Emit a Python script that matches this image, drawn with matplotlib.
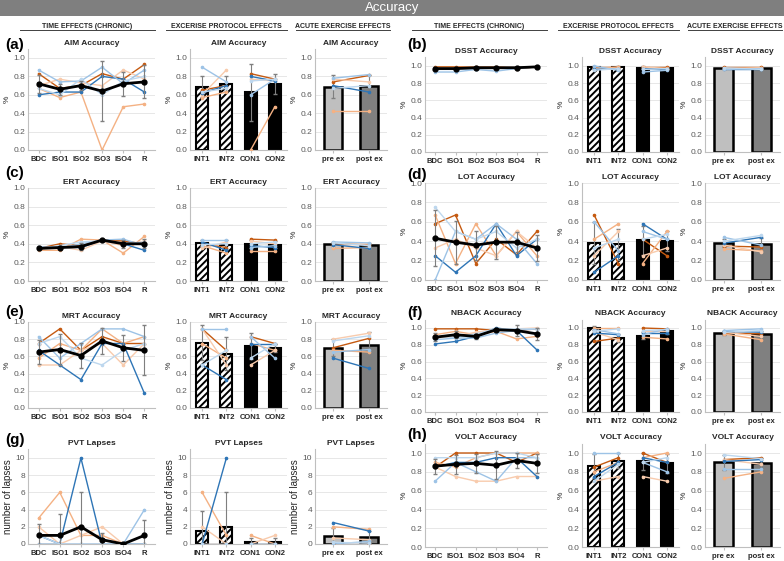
import numpy as np
import matplotlib.pyplot as plt

plt.rcParams['font.family'] = ['Liberation Sans', 'DejaVu Sans']
plt.rcParams['hatch.linewidth'] = 1.4

TIME_CATS = ['BDC', 'ISO1', 'ISO2', 'ISO3', 'ISO4', 'R']
PROT_CATS = ['INT1', 'INT2', 'CON1', 'CON2']
ACUTE_CATS = ['pre ex', 'post ex']
# dark orange, light orange, pale orange, dark blue, light blue, pale blue
SUBJ_COLORS = ['#C55A11', '#F4B183', '#F8CBAD', '#2E75B6', '#9DC3E6', '#BDD7EE']

# ---- AIM
aim_time = [[0.83, 0.67, 0.70, 0.83, 0.77, 0.93],
            [0.67, 0.57, 0.63, 0.00, 0.47, 0.50],
            [0.70, 0.77, 0.73, 0.70, 0.87, 0.77],
            [0.60, 0.63, 0.63, 0.80, 0.77, 0.63],
            [0.87, 0.74, 0.75, 0.90, 0.72, 0.87],
            [0.67, 0.60, 0.77, 0.60, 0.75, 0.80]]
aim_time_mean = [0.72, 0.66, 0.70, 0.64, 0.72, 0.74]
aim_time_err = [0.10, 0.06, 0.05, 0.33, 0.13, 0.18]
aim_prot = [[0.65, 0.70, 0.83, 0.77],
            [0.57, 0.63, 0.00, 0.47],
            [0.60, 0.87, 0.77, 0.75],
            [0.62, 0.70, 0.80, 0.75],
            [0.90, 0.74, 0.60, 0.77],
            [0.63, 0.67, 0.75, 0.77]]
aim_prot_bars = [0.69, 0.72, 0.63, 0.72]
aim_prot_err = [0.11, 0.08, 0.31, 0.11]
aim_acute = [[0.74, 0.81], [0.42, 0.42], [0.77, 0.74],
             [0.70, 0.63], [0.78, 0.82], [0.67, 0.70]]
aim_acute_bars = [0.69, 0.70]
aim_acute_err = [0.13, 0.12]

# ---- DSST
dsst_time = [[0.99, 0.99, 0.99, 0.99, 0.97, 0.99],
             [0.98, 0.98, 0.99, 0.99, 0.98, 0.99],
             [0.97, 0.97, 0.98, 0.98, 0.97, 0.99],
             [0.97, 0.97, 0.97, 0.98, 0.98, 0.99],
             [0.93, 0.93, 0.96, 0.94, 0.97, 0.99],
             [0.96, 0.96, 0.97, 0.97, 0.98, 0.99]]
dsst_time_mean = [0.97, 0.97, 0.98, 0.98, 0.98, 0.99]
dsst_time_err = [0.02, 0.02, 0.01, 0.02, 0.01, 0.00]
dsst_prot = [[0.99, 0.99, 0.99, 0.99],
             [0.97, 0.99, 0.98, 0.98],
             [0.98, 0.98, 0.99, 0.97],
             [0.96, 0.97, 0.97, 0.96],
             [1.00, 0.95, 0.93, 0.95],
             [0.95, 0.97, 0.96, 0.97]]
dsst_prot_bars = [0.99, 0.99, 0.98, 0.98]
dsst_prot_err = [0.01, 0.01, 0.02, 0.01]
dsst_acute = [[0.99, 0.99], [0.98, 0.98], [0.97, 0.98],
              [0.97, 0.97], [0.96, 0.97], [0.98, 0.96]]
dsst_acute_bars = [0.98, 0.98]
dsst_acute_err = [0.01, 0.01]

# ---- ERT
ert_time = [[0.35, 0.40, 0.38, 0.44, 0.43, 0.40],
            [0.33, 0.33, 0.45, 0.44, 0.30, 0.48],
            [0.34, 0.37, 0.33, 0.43, 0.38, 0.43],
            [0.36, 0.36, 0.36, 0.44, 0.40, 0.33],
            [0.37, 0.35, 0.40, 0.44, 0.45, 0.38],
            [0.35, 0.38, 0.42, 0.43, 0.40, 0.42]]
ert_time_mean = [0.35, 0.36, 0.37, 0.44, 0.40, 0.40]
ert_time_err = [0.02, 0.02, 0.04, 0.01, 0.04, 0.05]
ert_prot = [[0.40, 0.36, 0.45, 0.44],
            [0.38, 0.30, 0.32, 0.32],
            [0.35, 0.42, 0.43, 0.40],
            [0.42, 0.33, 0.38, 0.36],
            [0.44, 0.44, 0.36, 0.38],
            [0.39, 0.40, 0.40, 0.42]]
ert_prot_bars = [0.41, 0.39, 0.40, 0.39]
ert_prot_err = [0.03, 0.05, 0.04, 0.04]
ert_acute = [[0.40, 0.39], [0.35, 0.36], [0.38, 0.40],
             [0.39, 0.35], [0.42, 0.41], [0.41, 0.38]]
ert_acute_bars = [0.40, 0.39]
ert_acute_err = [0.02, 0.02]

# ---- LOT
lot_time = [[0.58, 0.67, 0.17, 0.42, 0.26, 0.50],
            [0.67, 0.17, 0.58, 0.25, 0.50, 0.25],
            [0.33, 0.42, 0.33, 0.25, 0.50, 0.33],
            [0.25, 0.08, 0.25, 0.58, 0.25, 0.42],
            [0.00, 0.50, 0.42, 0.58, 0.42, 0.17],
            [0.75, 0.50, 0.42, 0.50, 0.33, 0.42]]
lot_time_mean = [0.43, 0.39, 0.36, 0.39, 0.39, 0.33]
lot_time_err = [0.29, 0.22, 0.15, 0.17, 0.10, 0.13]
lot_prot = [[0.67, 0.17, 0.42, 0.25],
            [0.42, 0.58, 0.17, 0.50],
            [0.25, 0.50, 0.25, 0.33],
            [0.08, 0.25, 0.58, 0.42],
            [0.60, 0.30, 0.50, 0.42],
            [0.33, 0.42, 0.42, 0.47]]
lot_prot_bars = [0.38, 0.37, 0.41, 0.40]
lot_prot_err = [0.22, 0.16, 0.15, 0.10]
lot_acute = [[0.35, 0.34], [0.32, 0.30], [0.36, 0.29],
             [0.38, 0.44], [0.44, 0.36], [0.40, 0.46]]
lot_acute_bars = [0.38, 0.37]
lot_acute_err = [0.04, 0.06]

# ---- MRT
mrt_time = [[0.75, 0.92, 0.67, 0.83, 0.75, 0.75],
            [0.58, 0.75, 0.67, 0.92, 0.75, 0.83],
            [0.50, 0.50, 0.67, 0.75, 0.50, 0.75],
            [0.67, 0.50, 0.33, 0.75, 0.75, 0.17],
            [0.83, 0.58, 0.75, 0.92, 0.92, 0.83],
            [0.75, 0.83, 0.58, 0.50, 0.67, 0.75]]
mrt_time_mean = [0.65, 0.68, 0.61, 0.78, 0.70, 0.67]
mrt_time_err = [0.14, 0.18, 0.15, 0.15, 0.15, 0.29]
mrt_prot = [[0.92, 0.67, 0.83, 0.75],
            [0.75, 0.58, 0.75, 0.67],
            [0.92, 0.50, 0.50, 0.67],
            [0.50, 0.33, 0.75, 0.75],
            [0.92, 0.92, 0.83, 0.58],
            [0.50, 0.67, 0.58, 0.75]]
mrt_prot_bars = [0.76, 0.63, 0.72, 0.70]
mrt_prot_err = [0.20, 0.19, 0.15, 0.05]
mrt_acute = [[0.70, 0.81], [0.67, 0.65], [0.80, 0.87],
             [0.58, 0.46], [0.65, 0.68], [0.78, 0.84]]
mrt_acute_bars = [0.70, 0.73]
mrt_acute_err = [0.10, 0.15]

# ---- NBACK
nback_time = [[0.99, 0.99, 0.99, 0.97, 0.97, 0.99],
              [0.92, 0.96, 0.92, 0.96, 0.87, 0.90],
              [0.88, 0.90, 0.95, 0.98, 0.99, 1.00],
              [0.81, 0.84, 0.90, 1.00, 0.97, 0.74],
              [0.86, 0.88, 0.88, 0.94, 0.97, 0.99],
              [0.90, 0.89, 0.93, 0.99, 0.99, 0.99]]
nback_time_mean = [0.89, 0.92, 0.90, 0.98, 0.97, 0.93]
nback_time_err = [0.05, 0.04, 0.03, 0.02, 0.06, 0.07]
nback_prot = [[0.84, 0.88, 1.00, 0.99],
              [1.00, 1.00, 0.89, 0.87],
              [0.95, 0.86, 0.96, 0.96],
              [0.94, 0.92, 0.94, 0.94],
              [0.98, 0.93, 0.92, 0.99],
              [0.96, 0.99, 0.97, 0.98]]
nback_prot_bars = [1.00, 0.88, 0.91, 0.96]
nback_prot_err = [0.02, 0.05, 0.04, 0.03]
nback_acute = [[0.94, 0.93], [0.93, 0.86], [0.95, 0.90],
               [0.96, 0.95], [0.97, 0.99], [0.95, 0.97]]
nback_acute_bars = [0.94, 0.93]
nback_acute_err = [0.02, 0.04]

# ---- PVT
pvt_time = [[0, 0, 0, 0, 0, 0],
            [3, 6, 1, 1, 0, 0],
            [2, 0, 1, 2, 0, 0],
            [1, 0, 10, 0, 0, 0],
            [0, 0, 0, 0, 0, 4],
            [1, 0, 0, 0, 0, 0]]
pvt_time_mean = [1.0, 1.0, 2.0, 0.5, 0.0, 1.0]
pvt_time_err = [1.3, 2.5, 4.0, 0.8, 0.1, 1.8]
pvt_prot = [[0, 0, 0, 0],
            [6, 1, 1, 0],
            [2, 0, 0, 1],
            [0, 10, 0, 0],
            [0, 0, 0, 0],
            [0, 0, 0, 0]]
pvt_prot_bars = [1.5, 2.0, 0.25, 0.25]
pvt_prot_err = [2.3, 4.0, 0.4, 0.4]
pvt_acute = [[0.0, 0.0], [2.0, 1.7], [0.7, 0.5],
             [2.5, 1.5], [0.0, 0.3], [0.2, 0.1]]
pvt_acute_bars = [0.9, 0.8]
pvt_acute_err = [1.0, 0.7]

# ---- VOLT
volt_time = [[0.85, 1.00, 1.00, 1.00, 0.90, 1.00],
             [0.90, 0.85, 0.95, 1.00, 1.00, 1.00],
             [0.85, 0.75, 0.70, 0.70, 0.75, 0.75],
             [0.85, 0.90, 0.90, 0.95, 0.95, 0.75],
             [0.70, 0.90, 0.80, 0.70, 0.95, 0.95],
             [0.95, 0.95, 0.95, 1.00, 1.00, 0.95]]
volt_time_mean = [0.86, 0.88, 0.89, 0.87, 0.92, 0.89]
volt_time_err = [0.08, 0.10, 0.10, 0.15, 0.08, 0.10]
volt_prot = [[0.85, 0.95, 1.00, 0.90],
             [0.80, 0.90, 0.95, 1.00],
             [0.70, 0.75, 0.75, 0.70],
             [0.75, 0.90, 0.95, 0.90],
             [1.00, 1.00, 0.90, 0.80],
             [0.70, 0.88, 0.90, 0.95]]
volt_prot_bars = [0.86, 0.92, 0.91, 0.89]
volt_prot_err = [0.13, 0.08, 0.09, 0.10]
volt_acute = [[0.93, 0.95], [0.73, 0.80], [0.93, 0.88],
              [0.91, 0.93], [0.83, 0.83], [0.98, 0.94]]
volt_acute_bars = [0.90, 0.89]
volt_acute_err = [0.08, 0.06]

W, H = 784, 561
fig = plt.figure(figsize=(W / 100, H / 100), dpi=100)


def px_axes(x0, x1, ytop, ybot):
    return fig.add_axes([x0 / W, 1 - ybot / H, (x1 - x0) / W, (ybot - ytop) / H])


def style(ax, title, ylabel, ymax, step, fmt):
    ax.set_title(title, fontsize=6, fontweight='bold', color='#262626', pad=3)
    ax.set_ylim(0, ymax)
    ax.set_yticks(np.arange(0, ymax + 1e-6, step))
    ax.set_yticklabels([fmt % v for v in np.arange(0, ymax + 1e-6, step)])
    ax.grid(axis='y', color='#e3e3e3', lw=0.6)
    ax.set_axisbelow(True)
    for s in ['top', 'right']:
        ax.spines[s].set_visible(False)
    for s in ['left', 'bottom']:
        ax.spines[s].set_color('#bfbfbf')
        ax.spines[s].set_linewidth(0.8)
    ax.tick_params(axis='y', length=0, labelsize=6, labelcolor='#595959', pad=2)
    ax.tick_params(axis='x', length=2, color='#bfbfbf', labelsize=5.5, labelcolor='#262626', pad=2)
    for lab in ax.get_xticklabels():
        lab.set_fontweight('bold')
    ax.set_ylabel(ylabel, fontsize=6 if ylabel == '%' else 7, color='#262626', labelpad=2)


def time_panel(ax, indiv, mean, err):
    x = np.arange(len(TIME_CATS))
    for row, c in zip(indiv, SUBJ_COLORS):
        ax.plot(x, row, color=c, lw=1, marker='o', ms=1.6, zorder=2)
    ax.errorbar(x, mean, yerr=err, color='black', lw=2, marker='o', ms=3.5,
                ecolor='#7f7f7f', elinewidth=0.8, capsize=1.5, zorder=3)
    ax.set_xticks(x)
    ax.set_xticklabels(TIME_CATS)
    ax.set_xlim(-0.5, len(TIME_CATS) - 0.5)


def prot_panel(ax, indiv, bars, err):
    x = np.arange(len(PROT_CATS))
    ax.bar(x[:2], bars[:2], width=0.5, color='white', edgecolor='black', hatch='/////', lw=1.5, zorder=1)
    ax.bar(x[2:], bars[2:], width=0.5, color='black', edgecolor='black', lw=1.5, zorder=1)
    ax.errorbar(x, bars, yerr=err, fmt='none', ecolor='#7f7f7f', elinewidth=0.8, capsize=1.5, zorder=2)
    for row, c in zip(indiv, SUBJ_COLORS):
        ax.plot(x[:2], row[:2], color=c, lw=1, marker='o', ms=1.6, zorder=3)
        ax.plot(x[2:], row[2:], color=c, lw=1, marker='o', ms=1.6, zorder=3)
    ax.set_xticks(x)
    ax.set_xticklabels(PROT_CATS)
    ax.set_xlim(-0.5, len(PROT_CATS) - 0.5)


def acute_panel(ax, indiv, bars, err):
    x = np.arange(len(ACUTE_CATS))
    ax.bar(x, bars, width=0.5, color=['#bfbfbf', '#808080'], edgecolor='black', lw=1.8, zorder=1)
    ax.errorbar(x, bars, yerr=err, fmt='none', ecolor='#7f7f7f', elinewidth=0.8, capsize=1.5, zorder=2)
    for row, c in zip(indiv, SUBJ_COLORS):
        ax.plot(x, row, color=c, lw=1, marker='o', ms=1.6, zorder=3)
    ax.set_xticks(x)
    ax.set_xticklabels(ACUTE_CATS)
    ax.set_xlim(-0.5, len(ACUTE_CATS) - 0.5)


panels = [
    ('(a)', 'AIM Accuracy', aim_time, aim_time_mean, aim_time_err, aim_prot, aim_prot_bars, aim_prot_err,
     aim_acute, aim_acute_bars, aim_acute_err),
    ('(b)', 'DSST Accuracy', dsst_time, dsst_time_mean, dsst_time_err, dsst_prot, dsst_prot_bars, dsst_prot_err,
     dsst_acute, dsst_acute_bars, dsst_acute_err),
    ('(c)', 'ERT Accuracy', ert_time, ert_time_mean, ert_time_err, ert_prot, ert_prot_bars, ert_prot_err,
     ert_acute, ert_acute_bars, ert_acute_err),
    ('(d)', 'LOT Accuracy', lot_time, lot_time_mean, lot_time_err, lot_prot, lot_prot_bars, lot_prot_err,
     lot_acute, lot_acute_bars, lot_acute_err),
    ('(e)', 'MRT Accuracy', mrt_time, mrt_time_mean, mrt_time_err, mrt_prot, mrt_prot_bars, mrt_prot_err,
     mrt_acute, mrt_acute_bars, mrt_acute_err),
    ('(f)', 'NBACK Accuracy', nback_time, nback_time_mean, nback_time_err, nback_prot, nback_prot_bars,
     nback_prot_err, nback_acute, nback_acute_bars, nback_acute_err),
    ('(g)', 'PVT Lapses', pvt_time, pvt_time_mean, pvt_time_err, pvt_prot, pvt_prot_bars, pvt_prot_err,
     pvt_acute, pvt_acute_bars, pvt_acute_err),
    ('(h)', 'VOLT Accuracy', volt_time, volt_time_mean, volt_time_err, volt_prot, volt_prot_bars, volt_prot_err,
     volt_acute, volt_acute_bars, volt_acute_err),
]

# pixel geometry: zero line y, pixels per full unit, y max, label y
zero_y = [150, 152, 281, 280, 408, 412, 544, 547]
unit_px = [92, 86, 93, 97, 86, 84, 8.6, 94]
ymaxes = [1.1, 1.1, 1.0, 1.0, 1.0, 1.1, 11, 1.1]
label_y = [45, 45, 173, 175, 312, 313, 440, 435]
cols_left = [(28, 155), (190, 287), (315, 387)]
cols_right = [(425, 547), (582, 679), (705, 780)]

for i, p in enumerate(panels):
    tag, title = p[0], p[1]
    cols = cols_left if i % 2 == 0 else cols_right
    y0 = zero_y[i]
    ymax = ymaxes[i]
    top = y0 - unit_px[i] * ymax
    is_pvt = title.startswith('PVT')
    ylabel = 'number of lapses' if is_pvt else '%'
    step = 2 if is_pvt else 0.2
    fmt = '%d' if is_pvt else '%.1f'

    ax = px_axes(cols[0][0], cols[0][1], top, y0)
    time_panel(ax, p[2], p[3], p[4])
    style(ax, title, ylabel, ymax, step, fmt)

    ax = px_axes(cols[1][0], cols[1][1], top, y0)
    prot_panel(ax, p[5], p[6], p[7])
    style(ax, title, ylabel, ymax, step, fmt)

    ax = px_axes(cols[2][0], cols[2][1], top, y0)
    acute_panel(ax, p[8], p[9], p[10])
    style(ax, title, ylabel, ymax, step, fmt)

    lx = 5 if i % 2 == 0 else 407
    fig.text(lx / W, 1 - label_y[i] / H, tag, fontsize=11, fontweight='bold', va='center', ha='left')

# title bar
fig.patches.append(plt.Rectangle((0, 1 - 16 / H), 1, 16 / H, transform=fig.transFigure,
                                 facecolor='#7f7f7f', edgecolor='none'))
fig.text(392 / W, 1 - 8 / H, 'Accuracy', fontsize=9.5, color='white', ha='center', va='center')

# section headers
headers = [('TIME EFFECTS (CHRONIC)', 20, 155), ('EXCERISE PROTOCOL EFFECTS', 166, 287),
           ('ACUTE EXERCISE EFFECTS', 296, 390)]
for off in [0, 392]:
    for txt, x0, x1 in headers:
        xc = (x0 + x1) / 2 + off
        fig.text(xc / W, 1 - 26 / H, txt, fontsize=5, fontweight='bold', color='#262626',
                 ha='center', va='center')
        fig.add_artist(plt.Line2D([(x0 + off) / W, (x1 + off) / W], [1 - 30 / H, 1 - 30 / H],
                                  transform=fig.transFigure, color='#404040', lw=0.7))

fig.savefig('out.png', dpi=100)
